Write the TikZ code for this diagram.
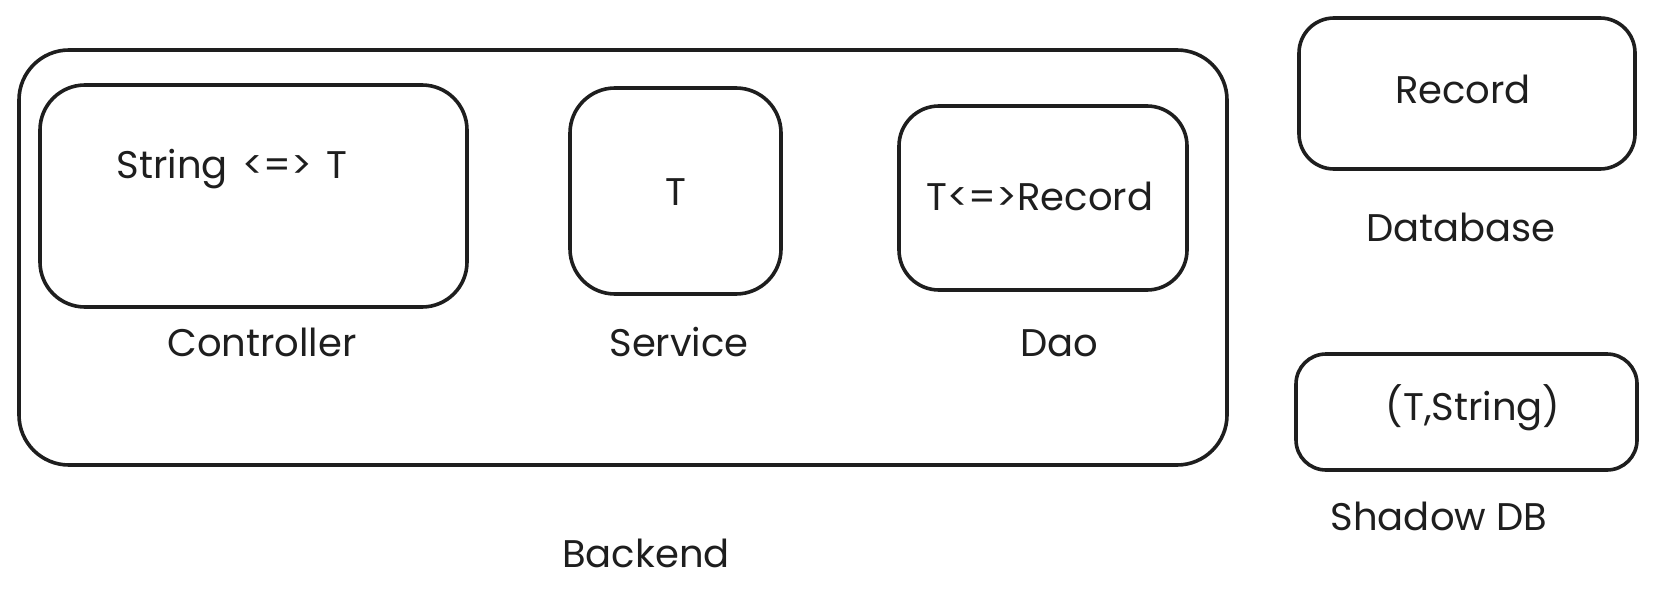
\documentclass[tikz,border=0pt]{standalone}
\usepackage{fontspec}
\setmainfont{Poppins}
\definecolor{ink}{HTML}{1E1E1E}
\begin{document}
\begin{tikzpicture}[x=1pt,y=-1pt,
  sk/.style={draw=ink,line width=3.6pt,rounded corners=#1,inner sep=0pt},
  lbl/.style={text=ink,font=\fontsize{38.5}{42}\selectfont,anchor=base,inner sep=0pt}]
\useasboundingbox (0,0) rectangle (1656,602);
% boxes
\node[sk=50pt,minimum width=1208pt,minimum height=415pt] (backend) at (623,257.5) {};
\node[sk=45pt,minimum width=427pt,minimum height=222pt] (controller) at (253.5,196) {};
\node[sk=45pt,minimum width=211pt,minimum height=206pt] (service) at (675.5,191) {};
\node[sk=40pt,minimum width=288pt,minimum height=184pt] (dao) at (1043,198) {};
\node[sk=35pt,minimum width=336pt,minimum height=151pt] (record) at (1467,93.5) {};
\node[sk=30pt,minimum width=341pt,minimum height=116pt] (shadow) at (1466.5,412) {};
% texts
\node[lbl] (t1) at (232,178) {String\hspace{4pt} <=>\hspace{4pt} T};
\node[lbl] (t2) at (262,356) {Controller};
\node[lbl] (t3) at (676,205) {T};
\node[lbl] (t4) at (679,356) {Service};
\node[lbl] (t5) at (1040,210) {T<=>Record};
\node[lbl] (t6) at (1059,356) {Dao};
\node[lbl] (t7) at (1463,103) {Record};
\node[lbl] (t8) at (1461,241) {Database};
\node[lbl] (t9) at (1473,420) {(T,String)};
\node[lbl] (t10) at (1439,530) {Shadow DB};
\node[lbl] (t11) at (646,567) {Backend};
\end{tikzpicture}
\end{document}
